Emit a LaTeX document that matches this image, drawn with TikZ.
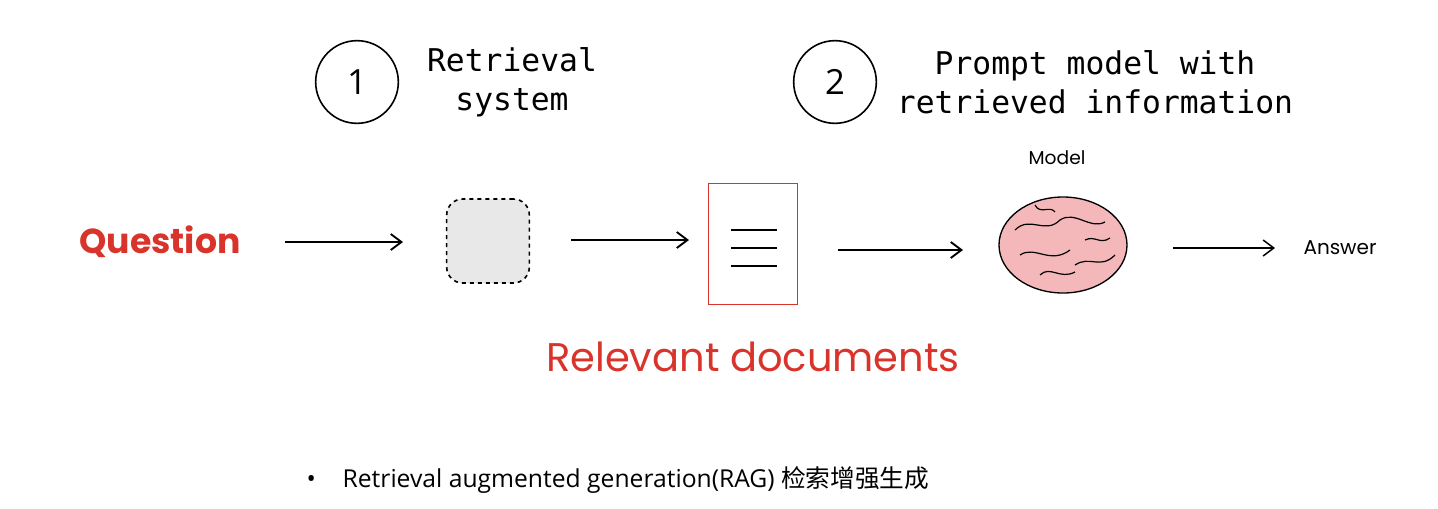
\documentclass[tikz,border=0pt]{standalone}
\usepackage{fontspec}
\usetikzlibrary{shapes.geometric,arrows.meta}
\setmainfont{Open Sans}
\newfontfamily\monof{DejaVu Sans Mono}
\newfontfamily\handf{Poppins}
\newfontfamily\cjk{Noto Sans CJK SC}
\definecolor{rd}{HTML}{D9342B}
\definecolor{pk}{HTML}{F4B8BA}
\begin{document}
\begin{tikzpicture}[x=0.75pt,y=-0.75pt,
  num/.style={circle,draw,line width=1.2pt,minimum size=62pt,font=\fontsize{26}{30}\selectfont},
  mono/.style={font=\monof\fontsize{23.5}{29}\selectfont,align=center},
  hand/.style={font=\handf\fontsize{#1}{#1}\selectfont},
  arr/.style={-{Straight Barb[length=8pt,width=12pt]},line width=1.4pt}]
\useasboundingbox (0,0) rectangle (1438,508);
\node[num] (c1) at (357,82) {1};
\node[mono] (t1) at (512,82) {Retrieval\\system};
\node[num] (c2) at (835,82) {2};
\node[mono] (t2) at (1095,82) {Prompt model with\\retrieved information};
\node[hand=26,text=rd] (q) at (160,242) {\bfseries Question};
\node[draw,dashed,line width=1.2pt,fill=gray!18,rounded corners=12pt,minimum width=62pt,minimum height=63pt] (ret) at (488,241) {};
\node[draw=rd,line width=1pt,minimum width=67pt,minimum height=91pt] (doc) at (753,244) {};
\foreach \yy in {230,248,266} \draw[line width=1pt] (731,\yy) -- (777,\yy);
\node[hand=30,text=rd] (rel) at (753,357) {Relevant documents};
% brain
\node[ellipse,draw,line width=1pt,fill=pk,minimum width=96pt,minimum height=72pt] (brain) at (1063,245) {};
\begin{scope}[line width=0.9pt]
\draw (1015,230) .. controls (1030,215) and (1045,235) .. (1060,220);
\draw (1020,255) .. controls (1035,245) and (1050,265) .. (1070,250);
\draw (1060,220) .. controls (1075,210) and (1090,230) .. (1105,222);
\draw (1075,265) .. controls (1090,255) and (1100,270) .. (1115,255);
\draw (1040,275) .. controls (1050,265) and (1060,280) .. (1075,272);
\draw (1085,240) .. controls (1095,235) and (1100,245) .. (1110,238);
\draw (1035,205) .. controls (1040,215) and (1050,205) .. (1055,212);
\end{scope}
\node[hand=14] (model) at (1057,158) {Model};
\node[hand=15] (ans) at (1340,248) {Answer};
\coordinate (a1s) at (285,242); \coordinate (a1e) at (403,242);
\draw[arr] (a1s) -- (a1e);
\coordinate (a2s) at (571,240); \coordinate (a2e) at (689,240);
\draw[arr] (a2s) -- (a2e);
\coordinate (a3s) at (838,250); \coordinate (a3e) at (963,250);
\draw[arr] (a3s) -- (a3e);
\coordinate (a4s) at (1173,248); \coordinate (a4e) at (1275,248);
\draw[arr,line width=1.1pt] (a4s) -- (a4e);
\node[anchor=west,font=\fontsize{18.5}{22}\selectfont] (bul) at (302,480) {\textbullet\hspace{20pt}Retrieval augmented generation(RAG) {\cjk 检索增强生成}};
\end{tikzpicture}
\end{document}
